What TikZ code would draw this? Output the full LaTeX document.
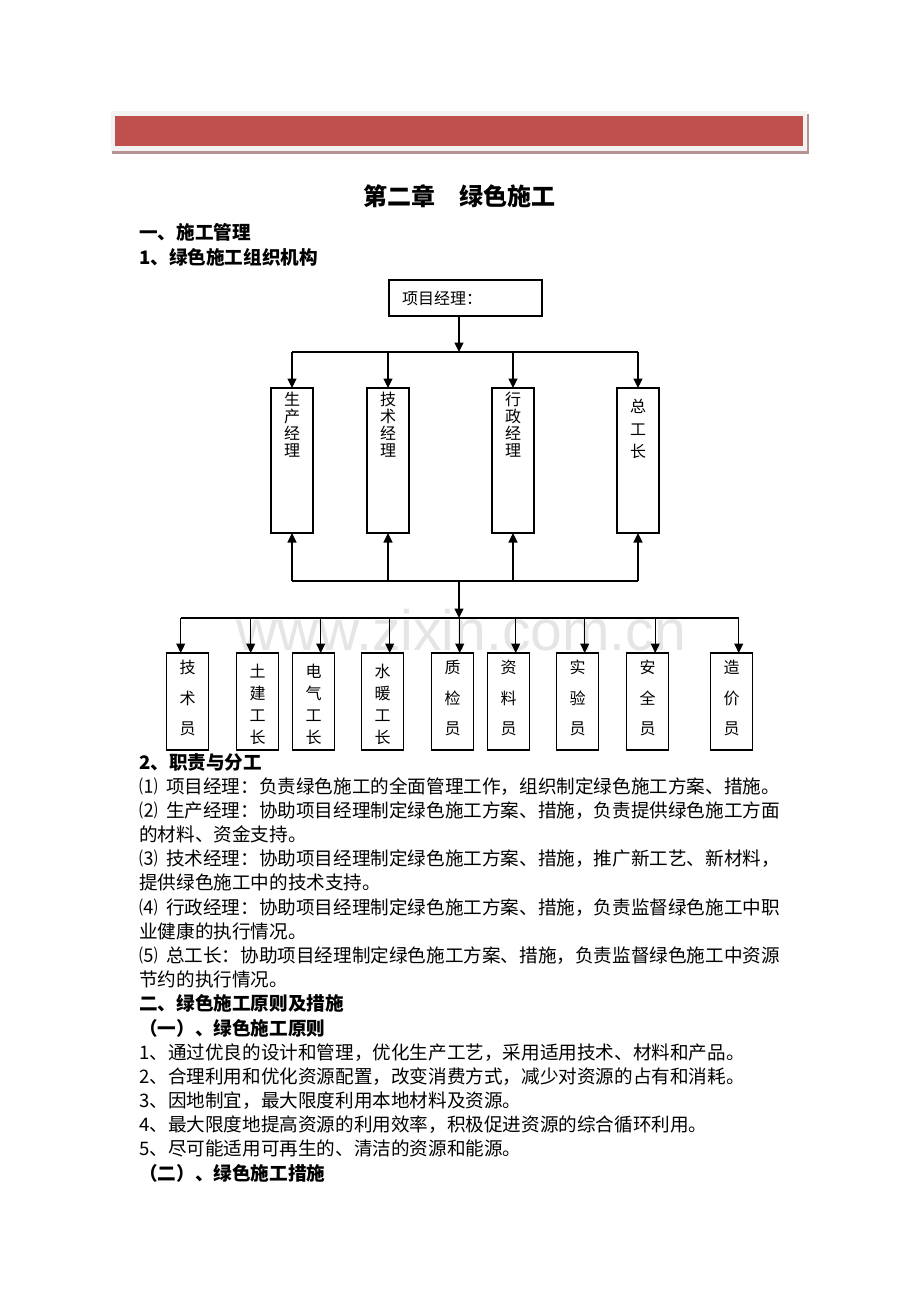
\documentclass[tikz,border=0pt]{standalone}
\usepackage{fontspec}
\setmainfont{Noto Sans CJK SC}
\newfontfamily\markfont{Liberation Sans}
\usetikzlibrary{arrows.meta,positioning}
\XeTeXlinebreaklocale "zh"
\XeTeXlinebreakskip=0pt plus 4pt minus 1pt
\definecolor{barred}{RGB}{192,80,77}
\definecolor{barshade}{RGB}{183,146,146}
\definecolor{barframe}{RGB}{242,242,242}
\newcommand{\fullline}[1]{\hbox to 642pt{#1}}

\begin{document}
\begin{tikzpicture}[x=1pt,y=-1pt]
        \tikzset{
          mgrbox/.style={draw,line width=1.1pt,minimum width=42pt,minimum height=145pt,inner sep=0pt,outer sep=0pt},
          staffbox/.style={draw,line width=1.1pt,minimum width=42pt,minimum height=97pt,inner sep=0pt,outer sep=0pt},
          vlab/.style={align=center,inner sep=0pt,anchor=north,font=\fontsize{16}{17}\selectfont},
          wire/.style={line width=1.1pt},
          arr/.style={wire,-{Triangle[length=9.5pt,width=9pt]}},
          body/.style={anchor=base west,inner sep=0pt,font=\fontsize{18.6}{24}\selectfont},
          head/.style={body,font=\fontsize{18.6}{24}\selectfont\bfseries}
        }
        \useasboundingbox (0,0) rectangle (920,1302);

        % header bar
        \fill[barshade] (112,114) rectangle (809,154);
        \fill[barframe] (111,111) rectangle (807,151);
        \fill[barred] (115,116) rectangle (803,146);

        % watermark
        \node[anchor=base,inner sep=0pt,text=black!10,font=\markfont\fontsize{57}{57}\selectfont] (mark) at (461,650) {www.zixin.com.cn};

        % titles
        \node[anchor=base,inner sep=0pt,font=\fontsize{24}{24}\selectfont\bfseries] (title) at (459,205) {第二章　绿色施工};
        \node[head] (h1) at (139,239) {一、施工管理};
        \node[head] (h2) at (139,264) {1、绿色施工组织机构};

        % project manager
        \node[draw,line width=1.1pt,minimum width=153pt,minimum height=36pt,inner sep=0pt,outer sep=0pt] (boss) at (465.5,298) {};
        \node[anchor=west,inner sep=0pt,font=\fontsize{16}{17}\selectfont] (bosslab) at ([xshift=13pt]boss.west) {项目经理：};

        % managers
        \node[mgrbox] (prod) at (292,460.5) {};
        \node[mgrbox,right=54pt of prod] (techm) {};
        \node[mgrbox,right=83pt of techm] (admin) {};
        \node[mgrbox,right=83pt of admin] (chief) {};
        \node[vlab,below=4pt of prod.north] (prodlab) {生\\产\\经\\理};
        \node[vlab,below=4pt of techm.north] (techmlab) {技\\术\\经\\理};
        \node[vlab,below=4pt of admin.north] (adminlab) {行\\政\\经\\理};
        \node[vlab,below=11pt of chief.north,font=\fontsize{16}{22.5}\selectfont] (chieflab) {总\\工\\长};

        % staff
        \node[staffbox] (techs) at (187.7,701.5) {};
        \node[staffbox,right=28pt of techs] (civil) {};
        \node[staffbox,right=14pt of civil] (elec) {};
        \node[staffbox,right=27pt of elec] (plumb) {};
        \node[staffbox,right=28pt of plumb] (qc) {};
        \node[staffbox,right=14pt of qc] (docs) {};
        \node[staffbox,right=27pt of docs] (lab) {};
        \node[staffbox,right=28pt of lab] (safe) {};
        \node[staffbox,right=42pt of safe] (cost) {};
        \foreach \s/\t in {techs/技\\术\\员,qc/质\\检\\员,docs/资\\料\\员,lab/实\\验\\员,safe/安\\全\\员,cost/造\\价\\员}
          \node[vlab,below=7pt of \s.north,font=\fontsize{16}{30.5}\selectfont] (\s lab) {\t};
        \foreach \s/\t in {civil/土\\建\\工\\长,elec/电\\气\\工\\长,plumb/水\\暖\\工\\长}
          \node[vlab,below=11pt of \s.north,font=\fontsize{16}{22}\selectfont] (\s lab) {\t};

        % connectors
        \coordinate (busA) at (459,352);
        \coordinate (busB) at (459,581);
        \coordinate (busC) at (459,618);
        \draw[arr] (boss.south -| busA) -- (busA);
        \draw[wire] (prod.north |- busA) -- (chief.north |- busA);
        \draw[wire] (prod.south |- busB) -- (chief.south |- busB);
        \foreach \m in {prod,techm,admin,chief} {
          \draw[arr] (\m.north |- busA) -- (\m.north);
          \draw[arr] (\m.south |- busB) -- (\m.south);
        }
        \draw[arr] (busB) -- (busC);
        \foreach \s/\d in {techs/-7pt,civil/-7pt,elec/7pt,plumb/7pt,qc/7pt,docs/7pt,lab/7pt,safe/7.5pt,cost/7pt} {
          \coordinate (\s-in) at ([xshift=\d]\s.north);
          \draw[arr] (\s-in |- busC) -- (\s-in);
        }
        \draw[wire] (techs-in |- busC) -- (cost-in |- busC);

        % duties
        \node[head] (t0) at (139,769) {2、职责与分工};
        \node[body] (t1) at (139,793.2) {⑴\hspace{0.45em}项目经理：负责绿色施工的全面管理工作，组织制定绿色施工方案、措施。};
        \node[body] (t2) at (139,817.4) {\fullline{⑵\hspace{0.45em}生产经理：协助项目经理制定绿色施工方案、措施，负责提供绿色施工方面}};
        \node[body] (t3) at (139,841.5) {的材料、资金支持。};
        \node[body] (t4) at (139,865.7) {\fullline{⑶\hspace{0.45em}技术经理：协助项目经理制定绿色施工方案、措施，推广新工艺、新材料，}};
        \node[body] (t5) at (139,889.9) {提供绿色施工中的技术支持。};
        \node[body] (t6) at (139,914.1) {\fullline{⑷\hspace{0.45em}行政经理：协助项目经理制定绿色施工方案、措施，负责监督绿色施工中职}};
        \node[body] (t7) at (139,938.3) {业健康的执行情况。};
        \node[body] (t8) at (139,962.4) {\fullline{⑸\hspace{0.45em}总工长：协助项目经理制定绿色施工方案、措施，负责监督绿色施工中资源}};
        \node[body] (t9) at (139,986.6) {节约的执行情况。};

        % principles
        \node[head] (t10) at (139,1010.8) {二、绿色施工原则及措施};
        \node[head] (t11) at (139,1035) {（一）、绿色施工原则};
        \node[body] (t12) at (139,1059.2) {1、通过优良的设计和管理，优化生产工艺，采用适用技术、材料和产品。};
        \node[body] (t13) at (139,1083.3) {2、合理利用和优化资源配置，改变消费方式，减少对资源的占有和消耗。};
        \node[body] (t14) at (139,1107.5) {3、因地制宜，最大限度利用本地材料及资源。};
        \node[body] (t15) at (139,1131.7) {4、最大限度地提高资源的利用效率，积极促进资源的综合循环利用。};
        \node[body] (t16) at (139,1155.9) {5、尽可能适用可再生的、清洁的资源和能源。};
        \node[head] (t17) at (139,1180.1) {（二）、绿色施工措施};
\end{tikzpicture}
\end{document}
